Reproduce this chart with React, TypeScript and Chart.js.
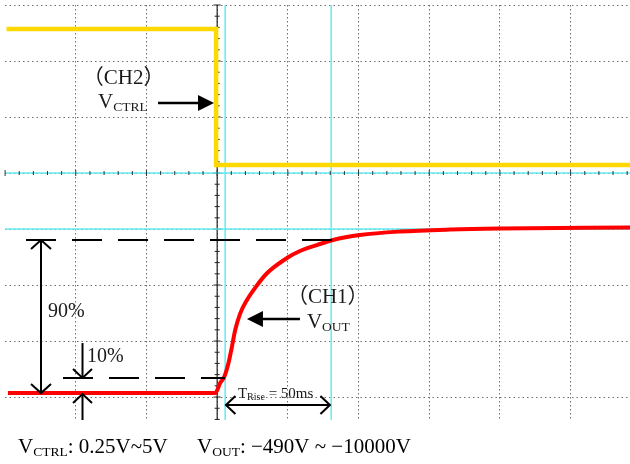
import React, { useEffect, useRef } from 'react';
import { Chart, registerables } from 'chart.js';

Chart.register(...registerables);

// Time axis in divisions (0 = trigger), level axis in divisions (0 = centre line)
const ch2Time = [-2.98, -0.015, -0.015, 5.84];
const ch2Level = [2.57, 2.57, 0.143, 0.143];

const ch1Time = [-2.96, -0.028, 0.042, 0.099, 0.16, 0.208, 0.255, 0.325, 0.42, 0.537, 0.704, 0.987, 1.171, 1.411, 1.638, 2.02, 2.586, 3.293, 3.996, 5.84];
const ch1Level = [-3.93, -3.93, -3.75, -3.643, -3.393, -3.107, -2.804, -2.51, -2.27, -2.05, -1.79, -1.518, -1.393, -1.286, -1.196, -1.107, -1.045, -1.009, -0.991, -0.973];

const cursorTimes = [0.113, 1.613];
const cursorLevels = [0, -1];

const level10 = -3.66;
const level90 = -1.196;
const levelLow = -3.93;

const xRange = [-3, 5.84];
const yRange = [-4.41, 3];

const labelCH2 = '（CH2）';
const labelCH1 = '（CH1）';
const riseLabel = ['T', 'Rise', ' = 50ms'];
const captionCtrl = ['V', 'CTRL', ': 0.25V~5V'];
const captionOut = ['V', 'OUT', ': −490V ~ −10000V'];

const FONT = '"Liberation Serif", "Noto Sans CJK SC", serif';

function drawSub(ctx: CanvasRenderingContext2D, x: number, y: number, parts: string[], size: number, subSize: number, drop: number, color: string) {
  ctx.fillStyle = color;
  ctx.textBaseline = 'alphabetic';
  ctx.textAlign = 'left';
  ctx.font = `${size}px ${FONT}`;
  ctx.fillText(parts[0], x, y);
  let cx = x + ctx.measureText(parts[0]).width;
  ctx.font = `${subSize}px ${FONT}`;
  ctx.fillText(parts[1], cx, y + drop);
  cx += ctx.measureText(parts[1]).width;
  if (parts[2]) {
    ctx.font = `${size}px ${FONT}`;
    ctx.fillText(parts[2], cx, y);
  }
}

function seg(ctx: CanvasRenderingContext2D, x1: number, y1: number, x2: number, y2: number) {
  ctx.beginPath();
  ctx.moveTo(x1, y1);
  ctx.lineTo(x2, y2);
  ctx.stroke();
}

function openHead(ctx: CanvasRenderingContext2D, tx: number, ty: number, dx: number, dy: number, len: number, half: number) {
  const px = -dy, py = dx;
  ctx.beginPath();
  ctx.moveTo(tx - dx * len + px * half, ty - dy * len + py * half);
  ctx.lineTo(tx, ty);
  ctx.lineTo(tx - dx * len - px * half, ty - dy * len - py * half);
  ctx.stroke();
}

function filledHead(ctx: CanvasRenderingContext2D, tx: number, ty: number, dx: number, dy: number, len: number, half: number) {
  const px = -dy, py = dx;
  ctx.beginPath();
  ctx.moveTo(tx, ty);
  ctx.lineTo(tx - dx * len + px * half, ty - dy * len + py * half);
  ctx.lineTo(tx - dx * len - px * half, ty - dy * len - py * half);
  ctx.closePath();
  ctx.fill();
}

const scopePlugin = {
  id: 'scope',
  beforeDatasetsDraw(chart: any) {
    const { ctx, chartArea: a, scales } = chart;
    const X = (v: number) => scales.x.getPixelForValue(v);
    const Y = (v: number) => scales.y.getPixelForValue(v);
    ctx.save();
    const cx = X(0), cy = Y(0);
    ctx.strokeStyle = '#222';
    ctx.lineWidth = 1.2;
    seg(ctx, cx, a.top, cx, a.bottom);
    ctx.lineWidth = 1;
    for (let i = Math.ceil(yRange[0] * 5); i <= yRange[1] * 5; i++) {
      const py = Y(i / 5);
      const w = i % 5 === 0 ? 3.5 : 2.5;
      seg(ctx, cx - w, py, cx + w, py);
    }
    ctx.strokeStyle = 'rgb(100,235,240)';
    ctx.lineWidth = 1.5;
    cursorLevels.forEach((v) => seg(ctx, a.left, Y(v), a.right, Y(v)));
    cursorTimes.forEach((v) => seg(ctx, X(v), a.top, X(v), a.bottom));
    ctx.strokeStyle = '#333';
    ctx.lineWidth = 1;
    for (let i = Math.ceil(xRange[0] * 5); i <= xRange[1] * 5; i++) {
      const px = X(i / 5);
      const h = i % 5 === 0 ? 3 : 2;
      seg(ctx, px, cy - h, px, cy + h);
    }
    ctx.restore();
  },
  afterDatasetsDraw(chart: any) {
    const { ctx, scales } = chart;
    const X = (v: number) => scales.x.getPixelForValue(v);
    const Y = (v: number) => scales.y.getPixelForValue(v);
    ctx.save();
    ctx.strokeStyle = '#000';
    ctx.fillStyle = '#000';
    ctx.lineCap = 'butt';
    ctx.lineWidth = 2;
    ctx.setLineDash([30, 16]);
    seg(ctx, X(-2.704), Y(level90), X(1.666), Y(level90));
    seg(ctx, X(-2.181), Y(level10), X(0.11), Y(level10));
    ctx.setLineDash([]);
    const ax = X(-2.492);
    seg(ctx, ax, Y(level90), ax, Y(levelLow));
    openHead(ctx, ax, Y(level90), 0, -1, 9, 10);
    openHead(ctx, ax, Y(levelLow), 0, 1, 9, 10);
    const bx = X(-1.905);
    seg(ctx, bx, Y(-3.036), bx, Y(level10));
    openHead(ctx, bx, Y(level10), 0, 1, 9, 9.5);
    seg(ctx, bx, Y(-4.41), bx, Y(-3.946));
    openHead(ctx, bx, Y(-3.946), 0, -1, 9, 9.5);
    const ry = Y(-4.143);
    seg(ctx, X(0.124), ry, X(1.595), ry);
    openHead(ctx, X(0.124), ry, -1, 0, 9.5, 9);
    openHead(ctx, X(1.595), ry, 1, 0, 9.5, 9);
    ctx.lineWidth = 2.5;
    const ay1 = Y(1.25);
    seg(ctx, X(-0.837), ay1, X(-0.045) - 10, ay1);
    filledHead(ctx, X(-0.045), ay1, 1, 0, 16, 8);
    const ay2 = Y(-2.607);
    seg(ctx, X(1.171), ay2, X(0.421) + 10, ay2);
    filledHead(ctx, X(0.421), ay2, -1, 0, 16, 8);

    const tc = '#1a1a1a';
    ctx.fillStyle = tc;
    ctx.textBaseline = 'alphabetic';
    ctx.textAlign = 'left';
    ctx.font = `21px ${FONT}`;
    ctx.fillText(labelCH2, X(-1.9), Y(1.59));
    ctx.fillText(labelCH1, X(0.987), Y(-2.32));
    drawSub(ctx, X(-1.686), Y(1.16), ['V', 'CTRL'], 21, 13.5, 3, tc);
    drawSub(ctx, X(1.27), Y(-2.77), ['V', 'OUT'], 21, 13.5, 3, tc);
    ctx.fillStyle = tc;
    ctx.font = `20px ${FONT}`;
    ctx.fillText('90%', X(-2.393), Y(-2.571));
    ctx.fillText('10%', X(-1.841), Y(-3.375));
    drawSub(ctx, X(0.294), Y(-4.018), riseLabel, 15, 10, 2, tc);

    drawSub(ctx, 18, 453, captionCtrl, 21, 13.5, 3, '#000');
    drawSub(ctx, 197, 453, captionOut, 21, 13.5, 3, '#000');
    ctx.restore();
  },
};

export default function App() {
  const ref = useRef<HTMLCanvasElement | null>(null);
  useEffect(() => {
    if (!ref.current) return;
    const chart = new Chart(ref.current, {
      type: 'line',
      data: {
        datasets: [
          {
            label: 'CH2',
            data: ch2Time.map((t, i) => ({ x: t, y: ch2Level[i] })),
            borderColor: '#FFD800',
            borderWidth: 4.5,
            pointRadius: 0,
            tension: 0,
            borderJoinStyle: 'miter',
          },
          {
            label: 'CH1',
            data: ch1Time.map((t, i) => ({ x: t, y: ch1Level[i] })),
            borderColor: '#FF0000',
            borderWidth: 4,
            pointRadius: 0,
            cubicInterpolationMode: 'monotone',
          },
        ],
      },
      options: {
        animation: false,
        responsive: false,
        devicePixelRatio: 1,
        layout: { padding: { left: 5.1, right: 0, top: 5, bottom: 44 } },
        plugins: { legend: { display: false }, tooltip: { enabled: false } },
        scales: {
          x: {
            type: 'linear',
            min: xRange[0],
            max: xRange[1],
            ticks: { display: false, stepSize: 1, includeBounds: false },
            grid: {
              drawTicks: false,
              color: (c: any) => (c.tick && c.tick.value === -3 ? 'rgba(0,0,0,0)' : '#6f6f6f'),
              lineWidth: 1,
            },
            border: { display: false, dash: [1.5, 2.5] },
          },
          y: {
            type: 'linear',
            min: yRange[0],
            max: yRange[1],
            ticks: { display: false, stepSize: 1, includeBounds: false },
            grid: { drawTicks: false, color: '#6f6f6f', lineWidth: 1 },
            border: { display: false, dash: [1.5, 3] },
          },
        },
      } as any,
      plugins: [scopePlugin],
    });
    return () => chart.destroy();
  }, []);
  return (
    <div style={{ position: 'absolute', left: 0, top: 0, width: 630, height: 464, background: '#fff' }}>
      <canvas ref={ref} width={630} height={464} style={{ display: 'block' }} />
    </div>
  );
}
